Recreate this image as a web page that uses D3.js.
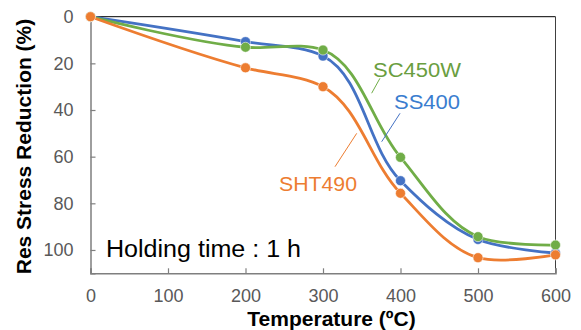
<!DOCTYPE html>
<html>
<head>
<meta charset="utf-8">
<script src="https://cdn.jsdelivr.net/npm/d3@7"></script>
<style>
  body { margin: 0; background: #fff; }
  svg { display: block; font-family: "Liberation Sans", Arial, sans-serif; }
</style>
</head>
<body>
<div id="chart"></div>
<script>
// data
const xTicks = [0, 100, 200, 300, 400, 500, 600];
const yTicks = [0, 20, 40, 60, 80, 100];
const pointTemps = [0, 200, 300, 400, 500, 600];
const ss400 = [0, 10.7, 16.9, 70.3, 95.5, 101.3];
const sc450w = [0, 13.1, 14.3, 60.3, 94.3, 97.9];
const sht490 = [0, 21.9, 30, 75.7, 103.3, 102.1];
const seriesNames = ["SS400", "SC450W", "SHT490"];

const width = 581;
const height = 330;

const svg = d3.select("#chart")
    .append("svg")
    .attr("width", width)
    .attr("height", height);

const x = d3.scaleLinear().domain([0, 600]).range([90.5, 555.5]);
const y = d3.scaleLinear().domain([0, 110]).range([16.7, 273.3]);

// box: top and right border
svg.append("line")
    .attr("x1", x(0)).attr("x2", x(600))
    .attr("y1", y(0)).attr("y2", y(0))
    .attr("stroke", "#000").attr("stroke-width", 1);
svg.append("line")
    .attr("x1", x(600)).attr("x2", x(600))
    .attr("y1", y(0)).attr("y2", y(110))
    .attr("stroke", "#404040").attr("stroke-width", 1);

// axes
const xAxis = d3.axisBottom(x).tickValues(xTicks).tickSize(-5).tickPadding(16);
const yAxis = d3.axisLeft(y).tickValues(yTicks).tickSize(-5).tickPadding(17);

const gx = svg.append("g")
    .attr("transform", `translate(0,${y(110)})`)
    .call(xAxis);
const gy = svg.append("g")
    .attr("transform", `translate(${x(0)},0)`)
    .call(yAxis);

[gx, gy].forEach(g => {
    g.select(".domain").attr("stroke", "#7f7f7f").attr("stroke-width", 1.5);
    g.selectAll(".tick line").attr("stroke", "#7f7f7f").attr("stroke-width", 1.2);
    g.selectAll(".tick text")
        .attr("fill", "#595959")
        .style("font-size", "18px")
        .style("font-family", "'Liberation Sans', Arial, sans-serif");
});

// series
const color = d3.scaleOrdinal()
    .domain(seriesNames)
    .range(["#4472C4", "#70AD47", "#ED7D31"]);

const series = [
    { name: "SS400", values: ss400 },
    { name: "SC450W", values: sc450w },
    { name: "SHT490", values: sht490 },
];

// smoothed line, chord-length parameterised
const line = d3.line()
    .x(d => x(d[0]))
    .y(d => y(d[1]))
    .curve(d3.curveCatmullRom.alpha(1));

series.forEach(s => {
    const pts = pointTemps.map((t, i) => [t, s.values[i]]);
    const g = svg.append("g");
    g.append("path")
        .datum(pts)
        .attr("d", line)
        .attr("fill", "none")
        .attr("stroke", color(s.name))
        .attr("stroke-width", 2.8);
    g.selectAll("circle")
        .data(pts)
        .join("circle")
        .attr("cx", d => x(d[0]))
        .attr("cy", d => y(d[1]))
        .attr("r", 5)
        .attr("fill", color(s.name))
        .attr("stroke", "#fff")
        .attr("stroke-opacity", 0.7)
        .attr("stroke-width", 0.8);
});

// series labels with leader lines
const labels = [
    { name: "SC450W", fill: "#6A9E3F", tx: 373, ty: 76.7, w: 88, from: [373.5, 26.4], to: [362.8, 32.8] },
    { name: "SS400", fill: "#3A7DCF", tx: 394, ty: 109.3, w: 66, from: [399.4, 41.4], to: [375.7, 53.6] },
    { name: "SHT490", fill: "#ED7D31", tx: 279, ty: 190.7, w: 78, from: [343.5, 50], to: [315.5, 64.3] },
];

labels.forEach(l => {
    svg.append("line")
        .attr("x1", x(l.from[0])).attr("y1", y(l.from[1]))
        .attr("x2", x(l.to[0])).attr("y2", y(l.to[1]))
        .attr("stroke", color(l.name))
        .attr("stroke-width", 1);
    svg.append("text")
        .attr("x", l.tx)
        .attr("y", l.ty)
        .attr("fill", l.fill)
        .attr("textLength", l.w)
        .attr("lengthAdjust", "spacingAndGlyphs")
        .style("font-size", "20px")
        .text(l.name);
});

// note
svg.append("text")
    .attr("x", 106)
    .attr("y", 256.7)
    .attr("fill", "#000")
    .attr("textLength", 195)
    .attr("lengthAdjust", "spacingAndGlyphs")
    .style("font-size", "23px")
    .text("Holding time : 1 h");

// axis titles
svg.append("text")
    .attr("x", 331.5)
    .attr("y", 325.5)
    .attr("text-anchor", "middle")
    .attr("fill", "#000")
    .style("font-size", "21px")
    .style("font-weight", "bold")
    .text("Temperature (ºC)");

svg.append("text")
    .attr("transform", "translate(31,146.5) rotate(-90)")
    .attr("text-anchor", "middle")
    .attr("fill", "#000")
    .style("font-size", "21px")
    .style("font-weight", "bold")
    .text("Res Stress Reduction (%)");
</script>
</body>
</html>
